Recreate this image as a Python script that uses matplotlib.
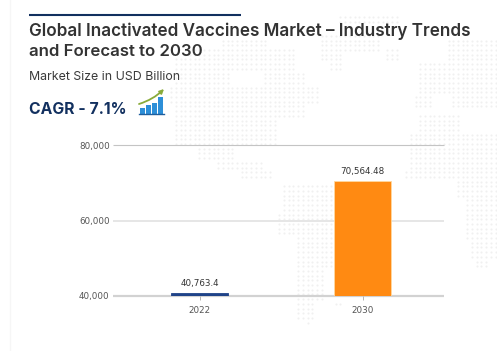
import numpy as np
import matplotlib
matplotlib.use("Agg")
import matplotlib.pyplot as plt

W, H = 497, 351

years = ["2022", "2030"]
market_size = [40763.4, 70564.48]
value_labels = ["40,763.4", "70,564.48"]
bar_colors = ["#1f4388", "#ff8a12"]
edge_colors = ["#1f4388", "#ffd9a0"]
y_ticks = [40000, 60000, 80000]
y_tick_labels = ["40,000", "60,000", "80,000"]

# faint dotted world map behind the chart: y0, y1, x0, x1 in image pixels
map_patches = [
    (17, 22, 340, 400), (33, 50, 320, 380), (50, 60, 317, 345), (50, 60, 385, 400),
    (62, 70, 330, 345),
    (40, 64, 445, 497), (64, 95, 420, 497), (95, 108, 450, 497), (95, 108, 415, 430),
    (112, 130, 420, 460), (130, 172, 410, 497), (172, 180, 405, 497), (180, 200, 455, 497),
    (200, 240, 465, 497), (240, 260, 470, 497), (260, 270, 475, 490),
    (38, 50, 220, 268), (50, 58, 185, 295), (58, 70, 175, 295), (70, 85, 175, 230),
    (70, 85, 262, 305), (85, 102, 170, 320), (102, 118, 175, 305), (118, 132, 175, 275),
    (132, 145, 173, 277), (147, 160, 195, 235), (160, 172, 218, 265), (172, 180, 240, 270),
    (183, 213, 280, 335), (213, 237, 278, 335), (237, 270, 295, 335), (270, 300, 298, 325),
    (300, 318, 298, 315), (320, 326, 303, 310), (300, 306, 335, 345),
]

fig = plt.figure(figsize=(W / 100, H / 100), dpi=100, facecolor="white")

# pixel-coordinate layer for the page furniture
bg = fig.add_axes([0, 0, 1, 1])
bg.set_xlim(0, W)
bg.set_ylim(H, 0)
bg.axis("off")

gx, gy = np.meshgrid(np.arange(2, W, 4.7), np.arange(3, H, 4.7))
mask = np.zeros(gx.shape, dtype=bool)
for y0, y1, x0, x1 in map_patches:
    mask |= (gy >= y0) & (gy <= y1) & (gx >= x0) & (gx <= x1)
bg.scatter(gx[mask], gy[mask], s=2.2, color="#f0f0f0", linewidths=0, zorder=1)

bg.plot([9.5, 9.5], [0, H], color="#f6f6f6", lw=1, zorder=1)
bg.plot([29, 241], [15, 15], color="#12305f", lw=1.5, solid_capstyle="butt", zorder=2)

bg.text(29, 31.5, "Global Inactivated Vaccines Market – Industry Trends", family="Inter",
        weight="semibold", fontsize=12.3, color="#333333", va="center", zorder=3)
bg.text(29, 51.5, "and Forecast to 2030", family="Inter", weight="semibold", fontsize=12.1,
        color="#333333", va="center", zorder=3)
bg.text(29, 77, "Market Size in USD Billion", family="Inter", fontsize=8.9,
        color="#3a3a3a", va="center", zorder=3)
bg.text(29, 109.5, "CAGR - 7.1%", family="Inter", weight="bold", fontsize=11.3,
        color="#12305f", va="center", zorder=3)

# small growth icon
for x0, top in zip([140, 146, 152, 158], [108, 105, 103, 97]):
    bg.fill_between([x0, x0 + 5], [top, top], [113.5, 113.5], color="#2d8fd8", lw=0, zorder=3)
bg.plot([139, 164], [114, 114], color="#1f5f9e", lw=1, zorder=3)
bg.annotate("", xy=(164, 89), xytext=(139, 104), zorder=3,
            arrowprops=dict(arrowstyle="-|>", color="#8aab3a", lw=1.3, mutation_scale=6,
                            connectionstyle="arc3,rad=0.12", shrinkA=0, shrinkB=0))

# chart axes, placed to the reference's pixels
left, right, top, bottom = 118, 444, 145, 296
ax = fig.add_axes([left / W, 1 - bottom / H, (right - left) / W, (bottom - top) / H])
ax.patch.set_alpha(0)
ax.set_xlim(-0.5, 1.5)
ax.set_ylim(40000, 80000)

grid_styles = {80000: ("#c4c4c4", 0.8), 60000: ("#e6e6e6", 1.4), 40000: ("#d2d2d2", 1.6)}
for val, (col, lw) in grid_styles.items():
    ax.plot([-0.53, 1.5], [val, val], color=col, lw=lw, clip_on=False, zorder=1,
            solid_capstyle="butt")

x = np.arange(len(years))
ax.bar(x, np.array(market_size) - 40000, bottom=40000, width=0.344, color=bar_colors,
       edgecolor=edge_colors, linewidth=0.6, zorder=2)

for xi, val, lab in zip(x, market_size, value_labels):
    ax.annotate(lab, (xi, val), xytext=(0, 5), textcoords="offset pixels", ha="center",
                va="bottom", fontsize=6.3, color="#333333", zorder=3)

for s in ax.spines.values():
    s.set_visible(False)
ax.set_xticks(x, years)
ax.set_yticks(y_ticks, y_tick_labels)
ax.tick_params(axis="x", length=3, width=0.6, color="#aaaaaa", labelsize=6.3,
               labelcolor="#555555", pad=4)
ax.tick_params(axis="y", length=0, labelsize=6.3, labelcolor="#555555", pad=6)

fig.savefig("out.png", dpi=100)
